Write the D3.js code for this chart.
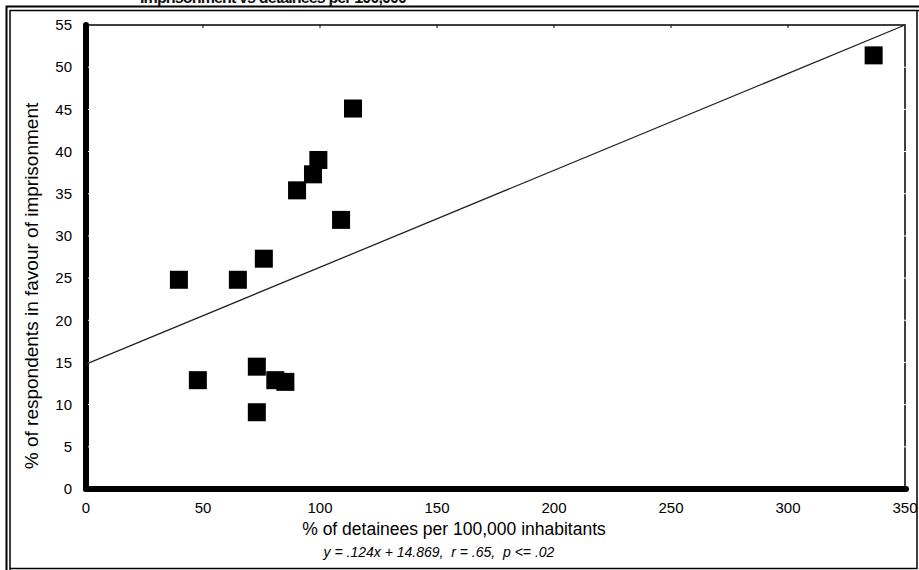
<!DOCTYPE html>
<html>
<head>
<meta charset="utf-8">
<script src="https://cdn.jsdelivr.net/npm/d3@7"></script>
<style>
  body { margin: 0; background: #fff; }
  svg { display: block; font-family: Arial, "Liberation Sans", sans-serif; }
</style>
</head>
<body>
<div id="chart"></div>
<script>
// detainees per 100,000 vs % in favour of imprisonment
var detainees = [39.7, 47.8, 64.9, 73.0, 73.0, 76.0, 80.9, 85.2, 90.2, 97.0, 99.3, 109.0, 114.1, 336.6];
var favour    = [24.8, 12.9, 24.8, 14.5, 9.1, 27.3, 12.9, 12.7, 35.4, 37.3, 39.0, 31.9, 45.1, 51.4];

var xTicks = [0, 50, 100, 150, 200, 250, 300, 350];
var yTicks = [0, 5, 10, 15, 20, 25, 30, 35, 40, 45, 50, 55];

// trend line as drawn (start / end)
var trendX = [0, 350];
var trendY = [14.8, 55];

var xTitle = "% of detainees per 100,000 inhabitants";
var yTitle = "% of respondents in favour of imprisonment";
var formula = "y = .124x + 14.869,  r = .65,  p <= .02";
var topTitle = "Imprisonment vs detainees per 100,000";

var width = 919, height = 570;

var x = d3.scaleLinear().domain([0, 350]).range([86, 905]);
var y = d3.scaleLinear().domain([0, 55]).range([489, 25]);

var svg = d3.select("#chart").append("svg")
  .attr("width", width)
  .attr("height", height);

svg.append("rect").attr("width", width).attr("height", height).attr("fill", "#fff");

// title, cut at the top edge like the original
svg.append("text")
  .attr("x", 140)
  .attr("y", 3)
  .attr("font-size", 16)
  .attr("font-weight", "bold")
  .attr("fill", "#111")
  .attr("textLength", 267)
  .text(topTitle);

// double frame
svg.append("path").attr("d", "M6.5,570 V6.5 H919").attr("fill", "none").attr("stroke", "#000").attr("stroke-width", 2);
svg.append("path").attr("d", "M10,570 V10.5 H919").attr("fill", "none").attr("stroke", "#000").attr("stroke-width", 1.5);
svg.append("path").attr("d", "M10,568.5 H917 V10").attr("fill", "none").attr("stroke", "#000").attr("stroke-width", 1.5);

// plot border (top/right thin)
svg.append("path")
  .attr("d", `M${x(0)},${y(55)} H${x(350)} V${y(0)}`)
  .attr("fill", "none").attr("stroke", "#000").attr("stroke-width", 1.5);

// top border ticks
svg.append("g").selectAll("line").data(xTicks.slice(1, -1)).join("line")
  .attr("x1", d => x(d)).attr("x2", d => x(d))
  .attr("y1", y(55)).attr("y2", y(55) + 3)
  .attr("stroke", "#000").attr("stroke-width", 1);

// right border white notches
svg.append("g").selectAll("line").data(yTicks.slice(1, -1)).join("line")
  .attr("x1", x(350) - 1).attr("x2", x(350) + 1)
  .attr("y1", d => y(d)).attr("y2", d => y(d))
  .attr("stroke", "#fff").attr("stroke-width", 1);

// thick axes
svg.append("line")
  .attr("x1", x(0)).attr("x2", x(350) + 1)
  .attr("y1", y(0)).attr("y2", y(0))
  .attr("stroke", "#000").attr("stroke-width", 6).attr("stroke-linecap", "round");
svg.append("line")
  .attr("x1", x(0)).attr("x2", x(0))
  .attr("y1", y(0)).attr("y2", y(55))
  .attr("stroke", "#000").attr("stroke-width", 6).attr("stroke-linecap", "round");

// white notches on the thick y axis
svg.append("g").selectAll("line").data(yTicks.slice(1, -1)).join("line")
  .attr("x1", x(0) + 2).attr("x2", x(0) + 3.5)
  .attr("y1", d => y(d)).attr("y2", d => y(d))
  .attr("stroke", "#fff").attr("stroke-width", 1);

// tick labels
svg.append("g").selectAll("text").data(yTicks).join("text")
  .attr("x", 72)
  .attr("y", d => y(d))
  .attr("dy", "0.35em")
  .attr("text-anchor", "end")
  .attr("font-size", 15)
  .text(d => d);

svg.append("g").selectAll("text").data(xTicks).join("text")
  .attr("x", d => x(d))
  .attr("y", 513)
  .attr("text-anchor", "middle")
  .attr("font-size", 15)
  .text(d => d);

// axis titles
svg.append("text")
  .attr("x", 454).attr("y", 535)
  .attr("text-anchor", "middle")
  .attr("font-size", 17.5)
  .text(xTitle);

svg.append("text")
  .attr("transform", "translate(38,286) rotate(-90)")
  .attr("text-anchor", "middle")
  .attr("font-size", 19)
  .text(yTitle);

svg.append("text")
  .attr("x", 439).attr("y", 557)
  .attr("text-anchor", "middle")
  .attr("font-size", 14)
  .attr("font-style", "italic")
  .style("white-space", "pre")
  .text(formula);

// trend line
svg.append("line")
  .attr("x1", x(trendX[0])).attr("y1", y(trendY[0]))
  .attr("x2", x(trendX[1])).attr("y2", y(trendY[1]))
  .attr("stroke", "#222").attr("stroke-width", 1.3);

// points
var pts = detainees.map((d, i) => ({x: d, y: favour[i]}));
svg.append("g").selectAll("rect").data(pts).join("rect")
  .attr("x", d => x(d.x) - 9)
  .attr("y", d => y(d.y) - 9)
  .attr("width", 18)
  .attr("height", 18)
  .attr("fill", "#000");
</script>
</body>
</html>
